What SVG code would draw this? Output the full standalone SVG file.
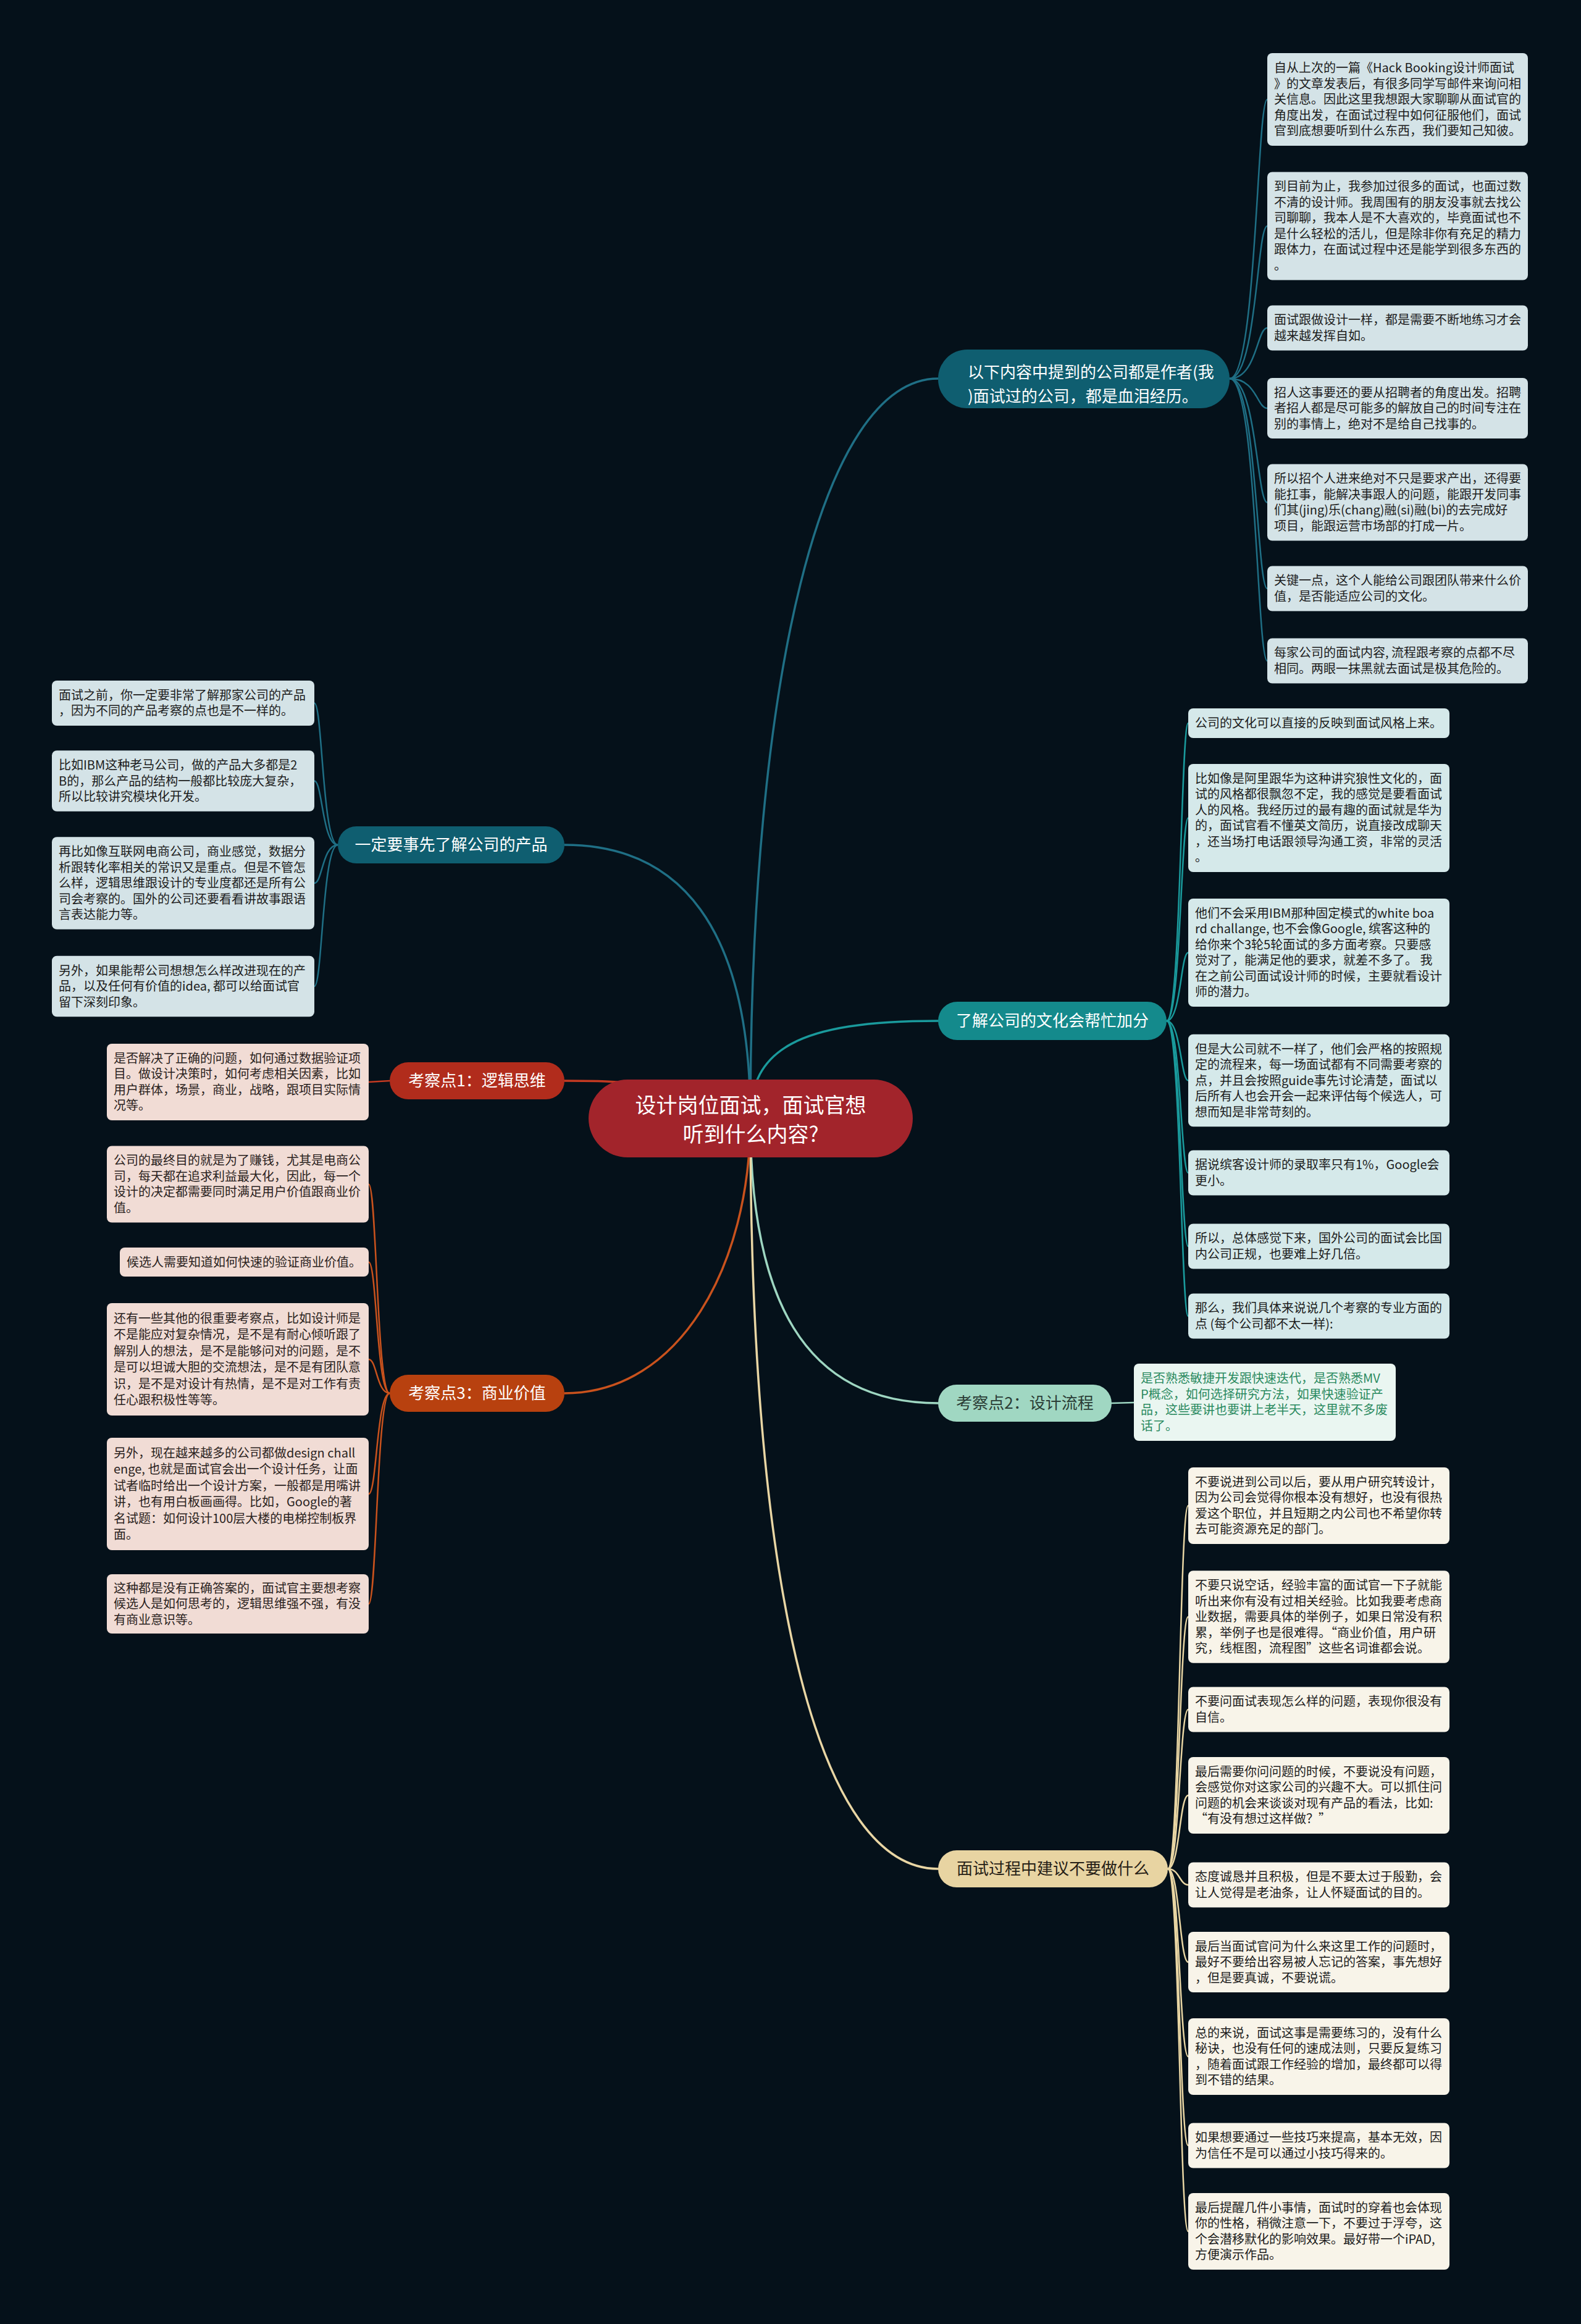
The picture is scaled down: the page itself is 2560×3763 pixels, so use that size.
<svg xmlns="http://www.w3.org/2000/svg" width="2560" height="3763" viewBox="0 0 2560 3763">
<style>
.t{font-family:"Noto Sans CJK SC","Noto Sans",sans-serif;font-size:20px;fill:#1c1c1c}
.tp{font-family:"Noto Sans CJK SC","Noto Sans",sans-serif;font-size:20px;fill:#2a2220}
.tg{font-family:"Noto Sans CJK SC","Noto Sans",sans-serif;font-size:20px;fill:#2a8a60}
.bt{font-family:"Noto Sans CJK SC","Noto Sans",sans-serif;font-size:26px}
.rt{font-family:"Noto Sans CJK SC","Noto Sans",sans-serif;font-size:34px;fill:#ffffff}
.lb{fill:#d4e3e7}
.lt{fill:#d5e9ea}
.lc{fill:#f8f4e9}
.lp{fill:#f1dcd5}
.c{fill:none;stroke-linecap:round}
.c1{stroke:#1f6f85;stroke-width:2.5}
.c2{stroke:#1a9a9c;stroke-width:2.5}
.c3{stroke:#9ed6c1;stroke-width:2.5}
.c4{stroke:#e9d6a4;stroke-width:2.5}
.c6{stroke:#c43a22;stroke-width:2.5}
.c7{stroke:#c9521d;stroke-width:2.5}
.m{stroke-width:3.5}
</style>
<rect x="0" y="0" width="2560" height="3763" fill="#05111a"/>
<g id="connectors">
<path class="c c1 m" d="M1215 1811 C1215 1100 1330 613 1519 613"/>
<path class="c c2 m" d="M1215 1811 C1215 1700 1290 1653 1519 1653"/>
<path class="c c3 m" d="M1215 1811 C1215 2100 1300 2272 1519 2272"/>
<path class="c c4 m" d="M1215 1811 C1215 2600 1330 3026 1519 3026"/>
<path class="c c1 m" d="M1215 1811 C1215 1500 1100 1368 914 1368"/>
<path class="c c6 m" d="M1215 1811 C1100 1750 1000 1750 914 1750"/>
<path class="c c7 m" d="M1215 1811 C1215 2050 1100 2256 914 2256"/>
<path class="c c1" d="M1991 613 C2035 613 2035 161 2052 161"/>
<path class="c c1" d="M1991 613 C2035 613 2035 366 2052 366"/>
<path class="c c1" d="M1991 613 C2035 613 2035 531 2052 531"/>
<path class="c c1" d="M1991 613 C2035 613 2035 661 2052 661"/>
<path class="c c1" d="M1991 613 C2035 613 2035 813.5 2052 813.5"/>
<path class="c c1" d="M1991 613 C2035 613 2035 953 2052 953"/>
<path class="c c1" d="M1991 613 C2035 613 2035 1070 2052 1070"/>
<path class="c c2" d="M1889 1653 C1912 1653 1912 1171 1924 1171"/>
<path class="c c2" d="M1889 1653 C1912 1653 1912 1324.5 1924 1324.5"/>
<path class="c c2" d="M1889 1653 C1912 1653 1912 1542.5 1924 1542.5"/>
<path class="c c2" d="M1889 1653 C1912 1653 1912 1749.5 1924 1749.5"/>
<path class="c c2" d="M1889 1653 C1912 1653 1912 1899 1924 1899"/>
<path class="c c2" d="M1889 1653 C1912 1653 1912 2018 1924 2018"/>
<path class="c c2" d="M1889 1653 C1912 1653 1912 2131 1924 2131"/>
<path class="c c3" d="M1800 2272 L1836 2271"/>
<path class="c c4" d="M1891 3026 C1910 3026 1910 2438 1924 2438"/>
<path class="c c4" d="M1891 3026 C1910 3026 1910 2618 1924 2618"/>
<path class="c c4" d="M1891 3026 C1910 3026 1910 2768 1924 2768"/>
<path class="c c4" d="M1891 3026 C1910 3026 1910 2907 1924 2907"/>
<path class="c c4" d="M1891 3026 C1910 3026 1910 3052 1924 3052"/>
<path class="c c4" d="M1891 3026 C1910 3026 1910 3177 1924 3177"/>
<path class="c c4" d="M1891 3026 C1910 3026 1910 3330 1924 3330"/>
<path class="c c4" d="M1891 3026 C1910 3026 1910 3474 1924 3474"/>
<path class="c c4" d="M1891 3026 C1910 3026 1910 3613 1924 3613"/>
<path class="c c1" d="M547 1368 C522 1368 522 1138.5 509 1138.5"/>
<path class="c c1" d="M547 1368 C522 1368 522 1264.5 509 1264.5"/>
<path class="c c1" d="M547 1368 C522 1368 522 1430 509 1430"/>
<path class="c c1" d="M547 1368 C522 1368 522 1597 509 1597"/>
<path class="c c6" d="M631 1750 L597 1752"/>
<path class="c c7" d="M631 2256 C610 2256 610 1917.5 597 1917.5"/>
<path class="c c7" d="M631 2256 C610 2256 610 2043.5 597 2043.5"/>
<path class="c c7" d="M631 2256 C610 2256 610 2201 597 2201"/>
<path class="c c7" d="M631 2256 C610 2256 610 2419 597 2419"/>
<path class="c c7" d="M631 2256 C610 2256 610 2597 597 2597"/>
</g>

<g id="root">
<rect x="953" y="1748" width="525" height="126" rx="63" fill="#a2242b"/>
<text class="rt" text-anchor="middle"><tspan x="1215.5" y="1802">设计岗位面试，面试官想</tspan><tspan x="1215.5" y="1849">听到什么内容?</tspan></text>
</g>

<g id="b1">
<rect x="1519" y="566" width="472" height="95" rx="47" fill="#0f5e70"/>
<text class="bt" fill="#ffffff"><tspan x="1567" y="612">以下内容中提到的公司都是作者(我</tspan><tspan x="1567" y="651">)面试过的公司，都是血泪经历。</tspan></text>
</g>
<g id="b1-1"><rect class="lb" x="2052" y="86" width="422" height="150" rx="8"/>
<text class="t"><tspan x="2063" y="117">自从上次的一篇《Hack Booking设计师面试</tspan><tspan x="2063" y="142.5">》的文章发表后，有很多同学写邮件来询问相</tspan><tspan x="2063" y="168">关信息。因此这里我想跟大家聊聊从面试官的</tspan><tspan x="2063" y="193.5">角度出发，在面试过程中如何征服他们，面试</tspan><tspan x="2063" y="219">官到底想要听到什么东西，我们要知己知彼。</tspan></text></g>
<g id="b1-2"><rect class="lb" x="2052" y="278.5" width="422" height="175" rx="8"/>
<text class="t"><tspan x="2063" y="309.25">到目前为止，我参加过很多的面试，也面过数</tspan><tspan x="2063" y="334.75">不清的设计师。我周围有的朋友没事就去找公</tspan><tspan x="2063" y="360.25">司聊聊，我本人是不大喜欢的，毕竟面试也不</tspan><tspan x="2063" y="385.75">是什么轻松的活儿，但是除非你有充足的精力</tspan><tspan x="2063" y="411.25">跟体力，在面试过程中还是能学到很多东西的</tspan><tspan x="2063" y="436.75">。</tspan></text></g>
<g id="b1-3"><rect class="lb" x="2052" y="494.5" width="422" height="73" rx="8"/>
<text class="t"><tspan x="2063" y="525.25">面试跟做设计一样，都是需要不断地练习才会</tspan><tspan x="2063" y="550.75">越来越发挥自如。</tspan></text></g>
<g id="b1-4"><rect class="lb" x="2052" y="612" width="422" height="98" rx="8"/>
<text class="t"><tspan x="2063" y="642.5">招人这事要还的要从招聘者的角度出发。招聘</tspan><tspan x="2063" y="668">者招人都是尽可能多的解放自己的时间专注在</tspan><tspan x="2063" y="693.5">别的事情上，绝对不是给自己找事的。</tspan></text></g>
<g id="b1-5"><rect class="lb" x="2052" y="751.5" width="422" height="124" rx="8"/>
<text class="t"><tspan x="2063" y="782.25">所以招个人进来绝对不只是要求产出，还得要</tspan><tspan x="2063" y="807.75">能扛事，能解决事跟人的问题，能跟开发同事</tspan><tspan x="2063" y="833.25">们其(jing)乐(chang)融(si)融(bi)的去完成好</tspan><tspan x="2063" y="858.75">项目，能跟运营市场部的打成一片。</tspan></text></g>
<g id="b1-6"><rect class="lb" x="2052" y="916.5" width="422" height="73" rx="8"/>
<text class="t"><tspan x="2063" y="947.25">关键一点，这个人能给公司跟团队带来什么价</tspan><tspan x="2063" y="972.75">值，是否能适应公司的文化。</tspan></text></g>
<g id="b1-7"><rect class="lb" x="2052" y="1033.5" width="422" height="73" rx="8"/>
<text class="t"><tspan x="2063" y="1064.25">每家公司的面试内容, 流程跟考察的点都不尽</tspan><tspan x="2063" y="1089.75">相同。两眼一抹黑就去面试是极其危险的。</tspan></text></g>

<g id="b2">
<rect x="1519" y="1622" width="370" height="62" rx="31" fill="#148a8c"/>
<text class="bt" fill="#ffffff" text-anchor="middle" x="1704" y="1662">了解公司的文化会帮忙加分</text>
</g>
<g id="b2-1"><rect class="lt" x="1924" y="1147" width="423" height="48" rx="8"/>
<text class="t"><tspan x="1935" y="1178">公司的文化可以直接的反映到面试风格上来。</tspan></text></g>
<g id="b2-2"><rect class="lt" x="1924" y="1237" width="423" height="175" rx="8"/>
<text class="t"><tspan x="1935" y="1267.75">比如像是阿里跟华为这种讲究狼性文化的，面</tspan><tspan x="1935" y="1293.25">试的风格都很飘忽不定，我的感觉是要看面试</tspan><tspan x="1935" y="1318.75">人的风格。我经历过的最有趣的面试就是华为</tspan><tspan x="1935" y="1344.25">的，面试官看不懂英文简历，说直接改成聊天</tspan><tspan x="1935" y="1369.75">，还当场打电话跟领导沟通工资，非常的灵活</tspan><tspan x="1935" y="1395.25">。</tspan></text></g>
<g id="b2-3"><rect class="lt" x="1924" y="1455" width="423" height="175" rx="8"/>
<text class="t"><tspan x="1935" y="1485.75">他们不会采用IBM那种固定模式的white boa</tspan><tspan x="1935" y="1511.25">rd challange, 也不会像Google, 缤客这种的</tspan><tspan x="1935" y="1536.75">给你来个3轮5轮面试的多方面考察。只要感</tspan><tspan x="1935" y="1562.25">觉对了，能满足他的要求，就差不多了。 我</tspan><tspan x="1935" y="1587.75">在之前公司面试设计师的时候，主要就看设计</tspan><tspan x="1935" y="1613.25">师的潜力。</tspan></text></g>
<g id="b2-4"><rect class="lt" x="1924" y="1674.75" width="423" height="149.5" rx="8"/>
<text class="t"><tspan x="1935" y="1705.5">但是大公司就不一样了，他们会严格的按照规</tspan><tspan x="1935" y="1731">定的流程来，每一场面试都有不同需要考察的</tspan><tspan x="1935" y="1756.5">点，并且会按照guide事先讨论清楚，面试以</tspan><tspan x="1935" y="1782">后所有人也会开会一起来评估每个候选人，可</tspan><tspan x="1935" y="1807.5">想而知是非常苛刻的。</tspan></text></g>
<g id="b2-5"><rect class="lt" x="1924" y="1862.5" width="423" height="73" rx="8"/>
<text class="t"><tspan x="1935" y="1893.25">据说缤客设计师的录取率只有1%，Google会</tspan><tspan x="1935" y="1918.75">更小。</tspan></text></g>
<g id="b2-6"><rect class="lt" x="1924" y="1981.5" width="423" height="73" rx="8"/>
<text class="t"><tspan x="1935" y="2012.25">所以，总体感觉下来，国外公司的面试会比国</tspan><tspan x="1935" y="2037.75">内公司正规，也要难上好几倍。</tspan></text></g>
<g id="b2-7"><rect class="lt" x="1924" y="2094.5" width="423" height="73" rx="8"/>
<text class="t"><tspan x="1935" y="2125.25">那么，我们具体来说说几个考察的专业方面的</tspan><tspan x="1935" y="2150.75">点 (每个公司都不太一样):</tspan></text></g>

<g id="b3">
<rect x="1519" y="2242" width="281" height="60" rx="30" fill="#a0d7c2"/>
<text class="bt" fill="#2b3d36" text-anchor="middle" x="1659.5" y="2281">考察点2：设计流程</text>
</g>
<g id="b3-1"><rect x="1836" y="2208" width="424" height="125" rx="8" fill="#eaf6f1"/>
<text class="tg"><tspan x="1847" y="2239.25">是否熟悉敏捷开发跟快速迭代，是否熟悉MV</tspan><tspan x="1847" y="2264.75">P概念，如何选择研究方法，如果快速验证产</tspan><tspan x="1847" y="2290.25">品，这些要讲也要讲上老半天，这里就不多废</tspan><tspan x="1847" y="2315.75">话了。</tspan></text></g>

<g id="b4">
<rect x="1519" y="2996" width="372" height="60" rx="30" fill="#e8d4a2"/>
<text class="bt" fill="#262016" text-anchor="middle" x="1705" y="3035">面试过程中建议不要做什么</text>
</g>
<g id="b4-1"><rect class="lc" x="1924" y="2376" width="423" height="124" rx="8"/>
<text class="t"><tspan x="1935" y="2406.75">不要说进到公司以后，要从用户研究转设计，</tspan><tspan x="1935" y="2432.25">因为公司会觉得你根本没有想好，也没有很热</tspan><tspan x="1935" y="2457.75">爱这个职位，并且短期之内公司也不希望你转</tspan><tspan x="1935" y="2483.25">去可能资源充足的部门。</tspan></text></g>
<g id="b4-2"><rect class="lc" x="1924" y="2543.25" width="423" height="149.5" rx="8"/>
<text class="t"><tspan x="1935" y="2574">不要只说空话，经验丰富的面试官一下子就能</tspan><tspan x="1935" y="2599.5">听出来你有没有过相关经验。比如我要考虑商</tspan><tspan x="1935" y="2625">业数据，需要具体的举例子，如果日常没有积</tspan><tspan x="1935" y="2650.5">累，举例子也是很难得。“商业价值，用户研</tspan><tspan x="1935" y="2676">究，线框图，流程图”这些名词谁都会说。</tspan></text></g>
<g id="b4-3"><rect class="lc" x="1924" y="2731.5" width="423" height="73" rx="8"/>
<text class="t"><tspan x="1935" y="2762.25">不要问面试表现怎么样的问题，表现你很没有</tspan><tspan x="1935" y="2787.75">自信。</tspan></text></g>
<g id="b4-4"><rect class="lc" x="1924" y="2845" width="423" height="124" rx="8"/>
<text class="t"><tspan x="1935" y="2875.75">最后需要你问问题的时候，不要说没有问题，</tspan><tspan x="1935" y="2901.25">会感觉你对这家公司的兴趣不大。可以抓住问</tspan><tspan x="1935" y="2926.75">问题的机会来谈谈对现有产品的看法，比如:</tspan><tspan x="1935" y="2952.25">“有没有想过这样做？”</tspan></text></g>
<g id="b4-5"><rect class="lc" x="1924" y="3015.5" width="423" height="73" rx="8"/>
<text class="t"><tspan x="1935" y="3046.25">态度诚恳并且积极，但是不要太过于殷勤，会</tspan><tspan x="1935" y="3071.75">让人觉得是老油条，让人怀疑面试的目的。</tspan></text></g>
<g id="b4-6"><rect class="lc" x="1924" y="3128" width="423" height="98" rx="8"/>
<text class="t"><tspan x="1935" y="3158.5">最后当面试官问为什么来这里工作的问题时，</tspan><tspan x="1935" y="3184">最好不要给出容易被人忘记的答案，事先想好</tspan><tspan x="1935" y="3209.5">，但是要真诚，不要说谎。</tspan></text></g>
<g id="b4-7"><rect class="lc" x="1924" y="3268" width="423" height="124" rx="8"/>
<text class="t"><tspan x="1935" y="3298.75">总的来说，面试这事是需要练习的，没有什么</tspan><tspan x="1935" y="3324.25">秘诀，也没有任何的速成法则，只要反复练习</tspan><tspan x="1935" y="3349.75">，随着面试跟工作经验的增加，最终都可以得</tspan><tspan x="1935" y="3375.25">到不错的结果。</tspan></text></g>
<g id="b4-8"><rect class="lc" x="1924" y="3437.5" width="423" height="73" rx="8"/>
<text class="t"><tspan x="1935" y="3468.25">如果想要通过一些技巧来提高，基本无效，因</tspan><tspan x="1935" y="3493.75">为信任不是可以通过小技巧得来的。</tspan></text></g>
<g id="b4-9"><rect class="lc" x="1924" y="3551" width="423" height="124" rx="8"/>
<text class="t"><tspan x="1935" y="3581.75">最后提醒几件小事情，面试时的穿着也会体现</tspan><tspan x="1935" y="3607.25">你的性格，稍微注意一下，不要过于浮夸，这</tspan><tspan x="1935" y="3632.75">个会潜移默化的影响效果。最好带一个iPAD,</tspan><tspan x="1935" y="3658.25">方便演示作品。</tspan></text></g>

<g id="b5">
<rect x="547" y="1338" width="367" height="60" rx="30" fill="#0f5e70"/>
<text class="bt" fill="#ffffff" text-anchor="middle" x="730.5" y="1377">一定要事先了解公司的产品</text>
</g>
<g id="b5-1"><rect class="lb" x="84" y="1102" width="425" height="73" rx="8"/>
<text class="t"><tspan x="95" y="1132.75">面试之前，你一定要非常了解那家公司的产品</tspan><tspan x="95" y="1158.25">，因为不同的产品考察的点也是不一样的。</tspan></text></g>
<g id="b5-2"><rect class="lb" x="84" y="1215.25" width="425" height="98.5" rx="8"/>
<text class="t"><tspan x="95" y="1246">比如IBM这种老马公司，做的产品大多都是2</tspan><tspan x="95" y="1271.5">B的，那么产品的结构一般都比较庞大复杂，</tspan><tspan x="95" y="1297">所以比较讲究模块化开发。</tspan></text></g>
<g id="b5-3"><rect class="lb" x="84" y="1355.25" width="425" height="149.5" rx="8"/>
<text class="t"><tspan x="95" y="1386">再比如像互联网电商公司，商业感觉，数据分</tspan><tspan x="95" y="1411.5">析跟转化率相关的常识又是重点。但是不管怎</tspan><tspan x="95" y="1437">么样，逻辑思维跟设计的专业度都还是所有公</tspan><tspan x="95" y="1462.5">司会考察的。国外的公司还要看看讲故事跟语</tspan><tspan x="95" y="1488">言表达能力等。</tspan></text></g>
<g id="b5-4"><rect class="lb" x="84" y="1547.75" width="425" height="98.5" rx="8"/>
<text class="t"><tspan x="95" y="1578.5">另外，如果能帮公司想想怎么样改进现在的产</tspan><tspan x="95" y="1604">品，以及任何有价值的idea, 都可以给面试官</tspan><tspan x="95" y="1629.5">留下深刻印象。</tspan></text></g>

<g id="b6">
<rect x="631" y="1720" width="283" height="60" rx="30" fill="#b12c1c"/>
<text class="bt" fill="#ffffff" text-anchor="middle" x="772.5" y="1759">考察点1：逻辑思维</text>
</g>
<g id="b6-1"><rect class="lp" x="173" y="1690" width="424" height="124" rx="8"/>
<text class="tp"><tspan x="184" y="1720.75">是否解决了正确的问题，如何通过数据验证项</tspan><tspan x="184" y="1746.25">目。做设计决策时，如何考虑相关因素，比如</tspan><tspan x="184" y="1771.75">用户群体，场景，商业，战略，跟项目实际情</tspan><tspan x="184" y="1797.25">况等。</tspan></text></g>

<g id="b7">
<rect x="631" y="2226" width="283" height="60" rx="30" fill="#b8410f"/>
<text class="bt" fill="#ffffff" text-anchor="middle" x="772.5" y="2265">考察点3：商业价值</text>
</g>
<g id="b7-1"><rect class="lp" x="173" y="1855.5" width="424" height="124" rx="8"/>
<text class="tp"><tspan x="184" y="1886.25">公司的最终目的就是为了赚钱，尤其是电商公</tspan><tspan x="184" y="1911.75">司，每天都在追求利益最大化，因此，每一个</tspan><tspan x="184" y="1937.25">设计的决定都需要同时满足用户价值跟商业价</tspan><tspan x="184" y="1962.75">值。</tspan></text></g>
<g id="b7-2"><rect class="lp" x="194" y="2020" width="403" height="47" rx="8"/>
<text class="tp"><tspan x="205" y="2050.5">候选人需要知道如何快速的验证商业价值。</tspan></text></g>
<g id="b7-3"><rect class="lp" x="173" y="2110" width="424" height="182" rx="8"/>
<text class="tp"><tspan x="184" y="2141.75">还有一些其他的很重要考察点，比如设计师是</tspan><tspan x="184" y="2168.25">不是能应对复杂情况，是不是有耐心倾听跟了</tspan><tspan x="184" y="2194.75">解别人的想法，是不是能够问对的问题，是不</tspan><tspan x="184" y="2221.25">是可以坦诚大胆的交流想法，是不是有团队意</tspan><tspan x="184" y="2247.75">识，是不是对设计有热情，是不是对工作有责</tspan><tspan x="184" y="2274.25">任心跟积极性等等。</tspan></text></g>
<g id="b7-4"><rect class="lp" x="173" y="2328" width="424" height="182" rx="8"/>
<text class="tp"><tspan x="184" y="2359.75">另外，现在越来越多的公司都做design chall</tspan><tspan x="184" y="2386.25">enge, 也就是面试官会出一个设计任务，让面</tspan><tspan x="184" y="2412.75">试者临时给出一个设计方案，一般都是用嘴讲</tspan><tspan x="184" y="2439.25">讲，也有用白板画画得。比如，Google的著</tspan><tspan x="184" y="2465.75">名试题：如何设计100层大楼的电梯控制板界</tspan><tspan x="184" y="2492.25">面。</tspan></text></g>
<g id="b7-5"><rect class="lp" x="173" y="2549" width="424" height="96" rx="8"/>
<text class="tp"><tspan x="184" y="2578.5">这种都是没有正确答案的，面试官主要想考察</tspan><tspan x="184" y="2604">候选人是如何思考的，逻辑思维强不强，有没</tspan><tspan x="184" y="2629.5">有商业意识等。</tspan></text></g>
</svg>
